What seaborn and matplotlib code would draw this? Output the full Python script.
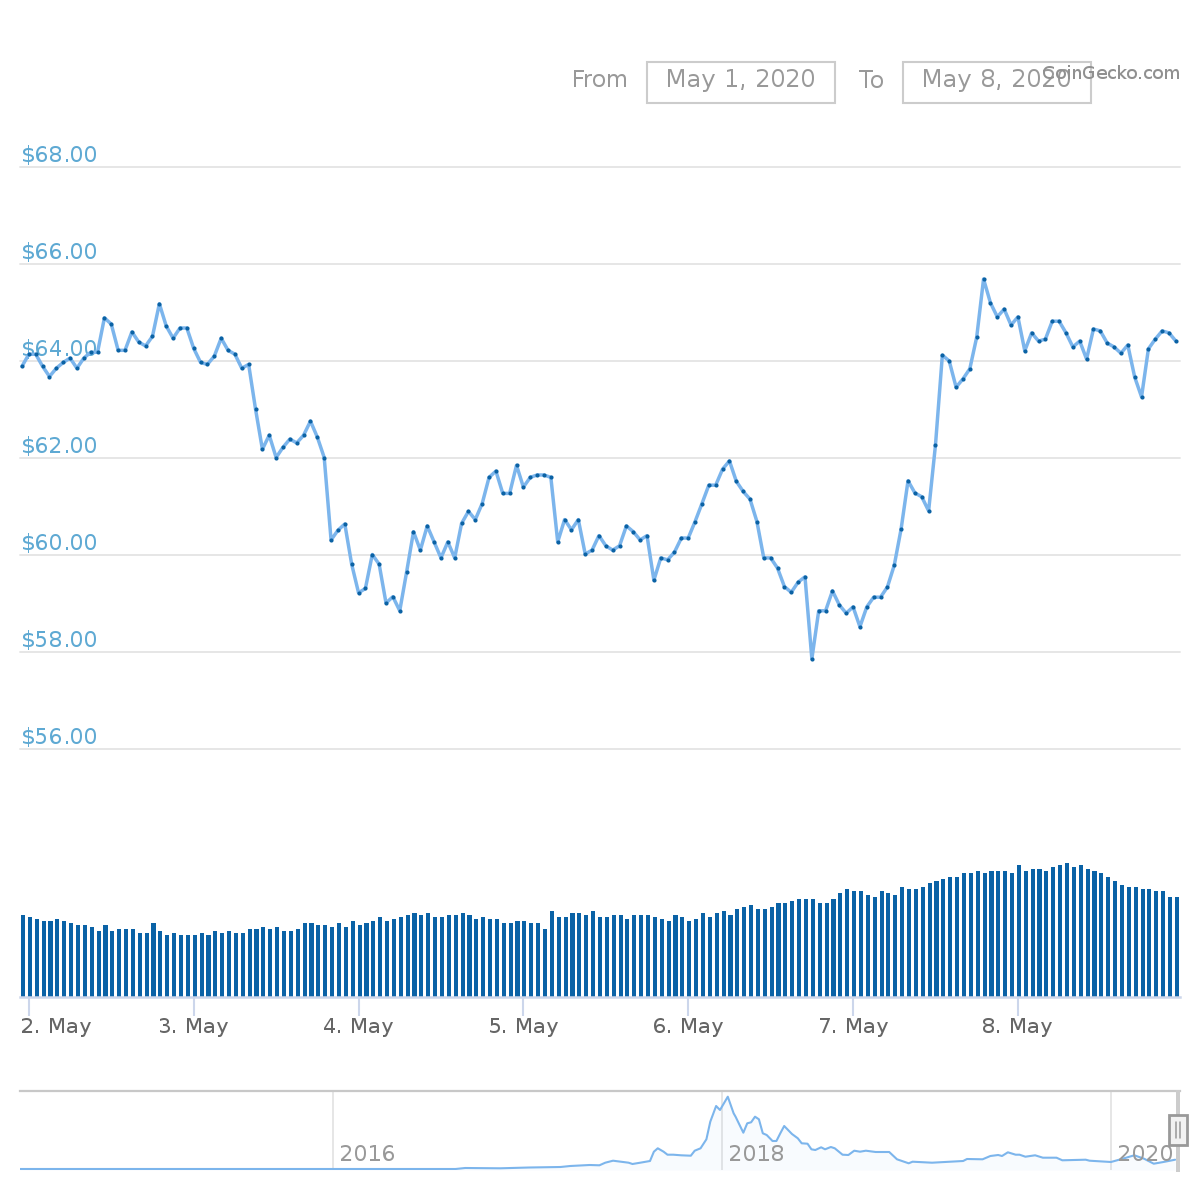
"""
Litecoin-style price chart, 1-8 May 2020: price line, volume bars, range navigator.
"""

import matplotlib
matplotlib.use("Agg")
import matplotlib.pyplot as plt
import matplotlib.transforms as mtrans
from matplotlib.patches import Rectangle
import numpy as np
import seaborn as sns

# ── Data ──────────────────────────────────────────────────────────────────────
price = [
    63.89, 64.14, 64.14, 63.89, 63.68, 63.85, 63.97, 64.06, 63.85, 64.06,
    64.18, 64.18, 64.89, 64.76, 64.22, 64.22, 64.60, 64.39, 64.31, 64.51,
    65.18, 64.72, 64.47, 64.68, 64.68, 64.26, 63.97, 63.93, 64.10, 64.47,
    64.22, 64.14, 63.85, 63.93, 63.01, 62.18, 62.47, 62.01, 62.22, 62.39,
    62.31, 62.47, 62.76, 62.43, 62.01, 60.31, 60.51, 60.64, 59.81, 59.22,
    59.31, 60.01, 59.81, 59.01, 59.14, 58.85,
    59.65, 60.48, 60.10, 60.60, 60.27, 59.94, 60.27, 59.94, 60.65, 60.90,
    60.73, 61.06, 61.60, 61.73, 61.27, 61.27, 61.85, 61.40, 61.60, 61.65,
    61.65, 61.60, 60.27, 60.73, 60.52, 60.73, 60.02, 60.10, 60.40, 60.19,
    60.10, 60.19, 60.60, 60.48, 60.31, 60.40, 59.48, 59.94, 59.90, 60.06,
    60.35, 60.35, 60.69, 61.06, 61.44, 61.44, 61.77, 61.94, 61.52, 61.31,
    61.15, 60.69, 59.94, 59.94, 59.73, 59.35, 59.23, 59.44,
    59.55, 57.86, 58.85, 58.85, 59.26, 58.97, 58.80, 58.93, 58.52, 58.93,
    59.13, 59.13, 59.34, 59.79, 60.54, 61.53, 61.28, 61.20, 60.91, 62.27,
    64.12, 64.00, 63.46, 63.63, 63.84, 64.49, 65.69, 65.20, 64.91, 65.07,
    64.74, 64.91, 64.21, 64.58, 64.41, 64.45, 64.82, 64.82, 64.58, 64.29,
    64.41, 64.04, 64.66, 64.62, 64.37, 64.29, 64.16, 64.33, 63.67, 63.26,
    64.25, 64.45, 64.62, 64.58, 64.41,
]
volume = [
    82, 80, 78, 76, 76, 78, 76, 74, 72, 72,
    70, 66, 72, 66, 68, 68, 68, 64, 64, 74,
    66, 62, 64, 62, 62, 62, 64, 62, 66, 64,
    66, 64, 64, 68, 68, 70, 68, 70, 66, 66,
    68, 74, 74, 72, 72, 70, 74, 70, 76, 72,
    74, 76, 80, 76, 78, 80, 82, 84, 82, 84,
    80, 80, 82, 82, 84, 82, 78, 80, 78, 78,
    74, 74, 76, 76, 74, 74, 68, 86, 80, 80,
    84, 84, 82, 86, 80,
    80, 82, 82, 78, 82, 82, 82, 80, 78, 76,
    82, 80, 76, 78, 84, 80, 84, 86, 82, 88,
    90, 92, 88, 88, 90, 94, 94, 96, 98, 98,
    98, 94, 94, 98, 104, 108, 106, 106, 102, 100,
    106, 104, 102, 110, 108, 108, 110, 114, 116, 118,
    120, 120, 124, 124, 126, 124, 126, 126, 126, 124,
    132, 126, 128, 128, 126, 130, 132, 134, 130, 132,
    128, 126, 124, 120, 116, 112, 110, 110, 108, 108,
    106, 106, 100, 100,
]
hours = np.arange(len(price))  # hourly samples, first one is 1 May 23:00

price_ticks = [56, 58, 60, 62, 64, 66, 68]
day_ticks = [1, 25, 49, 73, 97, 121, 145]
day_labels = ["2. May", "3. May", "4. May", "5. May", "6. May", "7. May", "8. May"]

nav_year = [
    2014.39, 2016.00, 2016.63, 2016.68, 2016.86, 2017.01, 2017.17, 2017.22, 2017.32,
    2017.37, 2017.40, 2017.44, 2017.48, 2017.52, 2017.54, 2017.58, 2017.63, 2017.65,
    2017.67, 2017.70, 2017.72, 2017.75, 2017.79, 2017.84, 2017.86, 2017.89, 2017.92,
    2017.94, 2017.97, 2017.99, 2018.03, 2018.06, 2018.07, 2018.11, 2018.13, 2018.15,
    2018.17, 2018.19, 2018.21, 2018.23, 2018.26, 2018.28, 2018.30, 2018.32, 2018.36,
    2018.39, 2018.41, 2018.44, 2018.46, 2018.48, 2018.51, 2018.53, 2018.56, 2018.58,
    2018.62, 2018.65, 2018.68, 2018.71, 2018.74, 2018.79, 2018.86, 2018.90, 2018.96,
    2018.98, 2019.08, 2019.24, 2019.26, 2019.34, 2019.38, 2019.42, 2019.44, 2019.47,
    2019.51, 2019.53, 2019.56, 2019.61, 2019.65, 2019.72, 2019.75, 2019.87, 2019.89,
    2020.00, 2020.05, 2020.12, 2020.17, 2020.22, 2020.27, 2020.33,
]
nav_level = [
    1, 1, 1, 2, 1.7, 2.5, 3, 4, 5,
    4.7, 7.3, 9.3, 8.3, 7.3, 6, 7.3, 9, 18.3,
    21.7, 18.3, 15.3, 15.3, 14.7, 14.3, 19.3, 21.7, 30.7,
    48.3, 64, 60, 73.3, 56.7, 53.3, 37.3, 46.7, 47.7,
    53.3, 50.7, 36.7, 35, 29, 29, 36.7, 44, 36,
    31.7, 26.7, 26.3, 20.7, 20, 22.7, 20.7, 23, 21.7,
    15.3, 15, 19.3, 18.3, 19.3, 18, 18, 10.7, 6.7,
    8.3, 7.3, 9, 11, 10.7, 14, 15, 14, 17.7,
    15.3, 15.3, 13.3, 14.7, 12.3, 12.3, 9.7, 10.3, 9.3,
    8, 10.7, 14.7, 11.3, 6.3, 8, 10.3,
]
nav_years_marked = [2016, 2018, 2020]

# ── Style ─────────────────────────────────────────────────────────────────────
sns.set_theme(style="white")
plt.rcParams["font.family"] = ["DejaVu Sans"]
plt.rcParams["text.hinting"] = "native"
plt.rcParams["text.hinting_factor"] = 1

LINE = "#7cb5ec"
DOT = "#0b62a4"
GRID = "#e6e6e6"
AXIS = "#ccd6eb"
GREY = "#999999"
HOUR_RANGE = (-0.29, 168.6)

fig = plt.figure(figsize=(12, 12), dpi=100, facecolor="white")


def px_axes(left, top, right, bottom):
    """Axes placed by reference pixel edges (y measured from the top)."""
    return fig.add_axes([left / 1200, 1 - bottom / 1200, (right - left) / 1200, (bottom - top) / 1200])


# ──────── Price panel ────────────────────────────────────────────────────────
ax = px_axes(20, 167, 1180, 749)
sns.lineplot(x=hours, y=price, color=LINE, linewidth=2.5, ax=ax, zorder=3)
sns.scatterplot(x=hours, y=price, color=DOT, s=9, linewidth=0, ax=ax, zorder=4)
ax.set_xlim(*HOUR_RANGE)
ax.set_ylim(56, 68)
ax.set_yticks(price_ticks)
ax.set_yticklabels([f"${v:.2f}" for v in price_ticks], ha="left", va="bottom",
                   color="#5ea9d3", fontsize=16)
ax.tick_params(axis="y", length=0, pad=-1)
ax.set_xticks([])
ax.set_xlabel("")
ax.set_ylabel("")
ax.grid(axis="y", color=GRID, linewidth=1.4)
ax.set_axisbelow(True)
ax.patch.set_alpha(0)
for side in ax.spines:
    ax.spines[side].set_visible(False)
# grid ends sit on the axes edge, do not let them clip in half
for gl in ax.get_ygridlines():
    gl.set_clip_on(False)

# ──────── Volume panel ───────────────────────────────────────────────────────
ax_vol = px_axes(20, 850, 1180, 997)
# bars sit slightly right of the price points in the column layout
sns.barplot(x=hours + 0.15, y=volume, native_scale=True, color="#0a62a6", saturation=1,
            width=0.6, linewidth=0, edgecolor="none", ax=ax_vol)
ax_vol.set_xlim(*HOUR_RANGE)
ax_vol.set_ylim(0, 147)
ax_vol.set_yticks([])
ax_vol.set_xticks(day_ticks)
ax_vol.set_xticklabels(day_labels, color="#666666", fontsize=14.9)
ax_vol.tick_params(axis="x", length=13.5, width=1.5, color=AXIS, pad=1, bottom=True)
ax_vol.set_xlabel("")
ax_vol.set_ylabel("")
ax_vol.patch.set_alpha(0)
for side in ["top", "left", "right"]:
    ax_vol.spines[side].set_visible(False)
ax_vol.spines["bottom"].set_color(AXIS)
ax_vol.spines["bottom"].set_linewidth(1.8)
# first label is pushed right so it stays inside the plot
first = ax_vol.get_xticklabels()[0]
first.set_ha("left")
first.set_transform(first.get_transform() + mtrans.Affine2D().translate(-8, 0))

# ──────── Navigator ──────────────────────────────────────────────────────────
ax_nav = px_axes(20, 1091, 1180, 1170)
sns.lineplot(x=nav_year, y=nav_level, color=LINE, linewidth=1.5, ax=ax_nav, zorder=3)
ax_nav.fill_between(nav_year, nav_level, color=LINE, alpha=0.05, linewidth=0)
ax_nav.set_xlim(2014.391, 2020.355)
ax_nav.set_ylim(0, 79)
ax_nav.set_xticks(nav_years_marked)
ax_nav.set_xticklabels([])
ax_nav.set_yticks([])
ax_nav.set_xlabel("")
ax_nav.set_ylabel("")
ax_nav.tick_params(axis="x", length=0)
ax_nav.grid(axis="x", color=GRID, linewidth=1.4)
ax_nav.patch.set_alpha(0)
for side in ["left", "right", "bottom"]:
    ax_nav.spines[side].set_visible(False)
ax_nav.spines["top"].set_color("#c8c8c8")
ax_nav.spines["top"].set_linewidth(1.6)
for year in nav_years_marked:
    ax_nav.annotate(str(year), xy=(year, 0), xytext=(5, 11), textcoords="offset points",
                    color=GREY, fontsize=15.5, va="center", ha="left", zorder=5)

# ──────── Overlay in reference pixels: range inputs, credit, scrollbar handle ─
over = fig.add_axes([0, 0, 1, 1], zorder=10)
over.set_xlim(0, 1200)
over.set_ylim(1200, 0)
over.axis("off")
over.patch.set_alpha(0)

over.text(572, 81, "From", color=GREY, fontsize=16.6, va="center")
over.text(859, 81, "To", color=GREY, fontsize=17, va="center")
over.add_patch(Rectangle((646.5, 61.5), 188.5, 41, fill=False, edgecolor="#cccccc", linewidth=1.5))
over.add_patch(Rectangle((903, 61.5), 188, 41, fill=False, edgecolor="#cccccc", linewidth=1.5))
over.text(740.5, 81, "May 1, 2020", color=GREY, fontsize=17, va="center", ha="center")
over.text(997, 81, "May 8, 2020", color=GREY, fontsize=17, va="center", ha="center")
over.text(1180, 74, "CoinGecko.com", color="#909090", fontsize=12.7, va="center", ha="right")

over.add_patch(Rectangle((1176, 1090), 4, 82, facecolor="#cccccc", edgecolor="none"))
over.add_patch(Rectangle((1169, 1115), 18, 30, facecolor="#f2f2f2", edgecolor="#999999", linewidth=2))
over.plot([1175.5, 1175.5], [1122, 1138], color="#999999", linewidth=1.1)
over.plot([1180, 1180], [1122, 1138], color="#999999", linewidth=1.1)

fig.savefig("out.png", dpi=100)
